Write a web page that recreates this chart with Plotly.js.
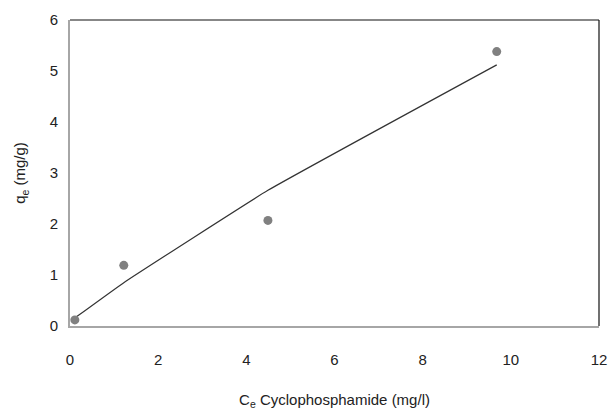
<!DOCTYPE html>
<html>
<head>
<meta charset="utf-8">
<script src="https://cdn.plot.ly/plotly-3.0.1.min.js"></script>
<style>html,body{margin:0;padding:0;background:#fff;}#chart{width:611px;height:412px;}</style>
</head>
<body>
<div id="chart"></div>
<script>
// Experimental data: equilibrium concentration vs adsorbed amount
var ceValues = [0.11, 1.22, 4.49, 9.68];
var qeValues = [0.12, 1.19, 2.07, 5.38];
// Model fit line values at the same concentrations
var fitCe = [0.13, 1.22, 4.49, 9.68];
var fitQe = [0.17, 0.85, 2.66, 5.12];
var xTicks = [0, 2, 4, 6, 8, 10, 12];
var yTicks = [0, 1, 2, 3, 4, 5, 6];

var font = {family: 'Liberation Sans, Arial, sans-serif', size: 15, color: '#222'};

var traces = [
  {x: fitCe, y: fitQe, mode: 'lines', type: 'scatter',
   line: {color: '#333333', width: 1.2, shape: 'spline', smoothing: 0.3}, hoverinfo: 'skip'},
  {x: ceValues, y: qeValues, mode: 'markers', type: 'scatter',
   marker: {color: '#808080', size: 9}}
];

var layout = {
  width: 611, height: 412,
  margin: {l: 70, r: 12, t: 20, b: 86},
  paper_bgcolor: '#fff', plot_bgcolor: '#fff',
  showlegend: false,
  font: font,
  xaxis: {
    range: [0, 12], tickvals: xTicks, ticktext: xTicks.map(String),
    showgrid: false, zeroline: false, showline: true, linecolor: '#a6a6a6', linewidth: 2,
    ticks: '', ticklabelstandoff: 19, tickfont: font,
    title: {text: 'C<sub>e</sub> Cyclophosphamide (mg/l)', font: font, standoff: 27}
  },
  yaxis: {
    range: [0, 6], tickvals: yTicks, ticktext: yTicks.map(String),
    showgrid: false, zeroline: false, showline: true, linecolor: '#a6a6a6', linewidth: 2,
    ticks: '', ticklabelstandoff: 7, tickfont: font,
    title: {text: 'q<sub>e</sub> (mg/g)', font: font, standoff: 20}
  },
  shapes: [
    {type: 'line', xref: 'paper', yref: 'paper', x0: 0, x1: 1, y0: 1, y1: 1, line: {color: '#111', width: 1.2}},
    {type: 'line', xref: 'paper', yref: 'paper', x0: 1, x1: 1, y0: 0, y1: 1, line: {color: '#111', width: 1.2}}
  ]
};

Plotly.newPlot('chart', traces, layout, {displayModeBar: false, staticPlot: true});
</script>
</body>
</html>
